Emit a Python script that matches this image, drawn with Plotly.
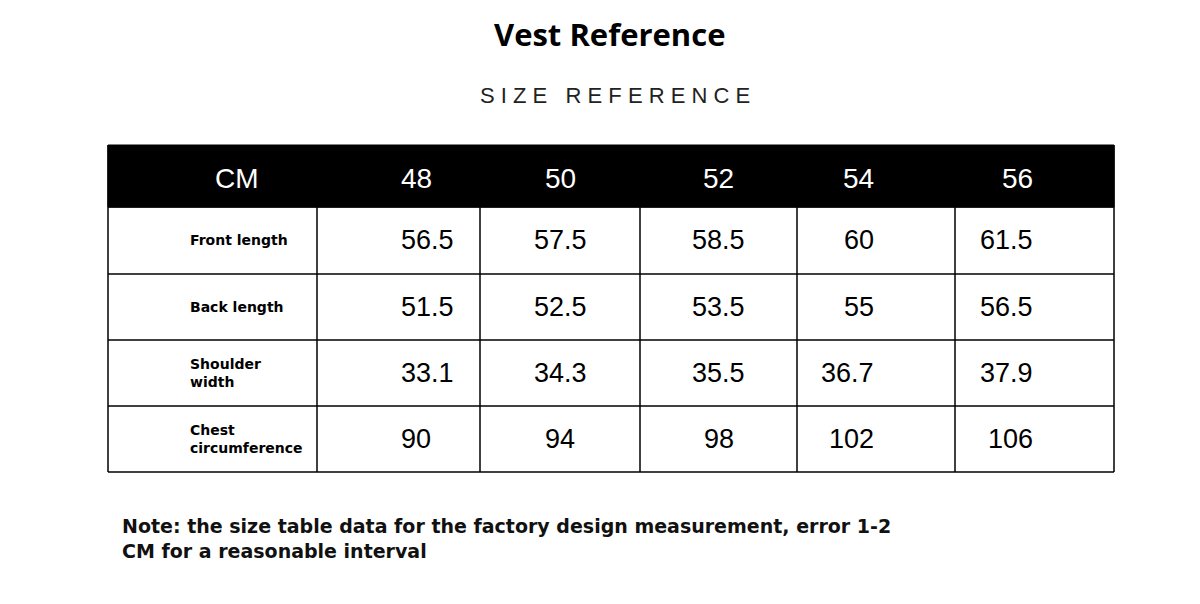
import plotly.graph_objects as go

header = ["CM", "48", "50", "52", "54", "56"]
labels = ["Front length", "Back length", "Shoulder<br>width", "Chest<br>circumference"]
s48 = ["56.5", "51.5", "33.1", "90"]
s50 = ["57.5", "52.5", "34.3", "94"]
s52 = ["58.5", "53.5", "35.5", "98"]
s54 = ["60", "55", "36.7", "102"]
s56 = ["61.5", "56.5", "37.9", "106"]
columns = [labels, s48, s50, s52, s54, s56]

W, H = 1200, 604
OFF = 8  # page body margin
colx = [108, 317, 480, 640, 797, 955, 1114]
rowy = [145, 207, 274, 340, 406, 472]

def px(x): return (x - OFF) / W
def py(y): return 1 - (y - OFF) / H

fig = go.Figure()
shapes = [dict(type="rect", xref="paper", yref="paper", x0=px(colx[0]), x1=px(colx[-1]),
               y0=py(rowy[0]), y1=py(rowy[1]), fillcolor="black", line=dict(color="black", width=1))]
for y in rowy[1:]:
    shapes.append(dict(type="line", xref="paper", yref="paper", x0=px(colx[0]), x1=px(colx[-1]),
                       y0=py(y), y1=py(y), line=dict(color="black", width=1.5)))
for x in colx:
    shapes.append(dict(type="line", xref="paper", yref="paper", x0=px(x), x1=px(x),
                       y0=py(rowy[1]), y1=py(rowy[-1]), line=dict(color="black", width=1.5)))
for x in (colx[0], colx[-1]):
    shapes.append(dict(type="line", xref="paper", yref="paper", x0=px(x), x1=px(x),
                       y0=py(rowy[0]), y1=py(rowy[1]), line=dict(color="black", width=1.5)))

ann = []
for j, h in enumerate(header):
    ann.append(dict(x=px((colx[j] + colx[j+1]) / 2), y=py((rowy[0] + rowy[1]) / 2 + 2),
                    text=h, font=dict(color="white", size=28, family="Liberation Sans")))
for j, col in enumerate(columns):
    for i, v in enumerate(col):
        yc = py((rowy[i+1] + rowy[i+2]) / 2)
        if j == 0:
            ann.append(dict(x=px(188), y=yc, xanchor="left", align="left", text="<b>" + v + "</b>",
                            font=dict(color="black", size=14, family="DejaVu Sans")))
        else:
            ann.append(dict(x=px((colx[j] + colx[j+1]) / 2), y=yc, text=v,
                            font=dict(color="black", size=27, family="Liberation Sans")))
ann += [
    dict(x=px(610), y=py(34), text="<b>Vest Reference</b>", font=dict(size=31, family="Open Sans", color="black")),
    dict(x=px(615), y=py(95), text="S I Z E   R E F E R E N C E", font=dict(size=22, family="Liberation Sans", color="#222")),
    dict(x=px(120), y=py(538), xanchor="left", align="left",
         text="<b>Note: the size table data for the factory design measurement, error 1-2<br>CM for a reasonable interval</b>",
         font=dict(size=19, family="DejaVu Sans", color="#111")),
]
for a in ann:
    a.update(xref="paper", yref="paper", showarrow=False)
    a.setdefault("yanchor", "middle")

fig.update_layout(width=W, height=H, margin=dict(l=0, r=0, t=0, b=0),
                  paper_bgcolor="white", plot_bgcolor="white", shapes=shapes, annotations=ann,
                  xaxis=dict(visible=False), yaxis=dict(visible=False))
fig.write_html("out.html")
